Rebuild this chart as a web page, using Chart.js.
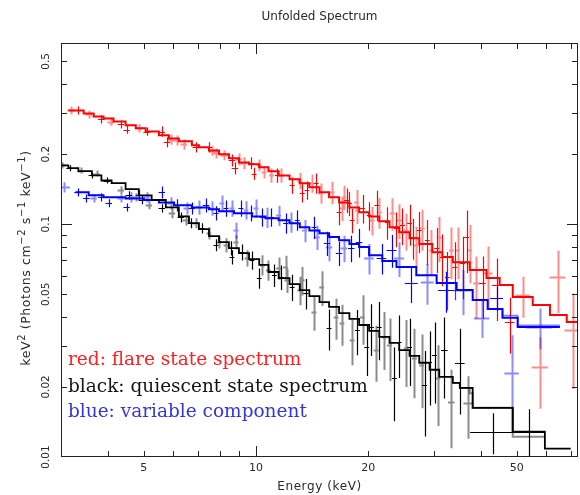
<!DOCTYPE html>
<html>
<head>
<meta charset="utf-8">
<script src="https://cdn.jsdelivr.net/npm/chart.js@4.4.1/dist/chart.umd.min.js"></script>
<style>
  html, body { margin: 0; padding: 0; background: #fff; }
  canvas { display: block; }
</style>
</head>
<body>
<canvas id="spectrum" width="580" height="495"></canvas>
<script>
// axis ticks
const xMinorTicks = [4, 5, 6, 7, 8, 9, 20, 30, 40, 50, 60, 70];
const xMajorTicks = [10];
const xTickLabels = [5, 10, 20, 50];
const yMinorTicks = [0.02, 0.03, 0.04, 0.05, 0.06, 0.07, 0.08, 0.09, 0.2, 0.3, 0.4, 0.5];
const yMajorTicks = [0.1];
const yTickLabels = ["0.01", "0.02", "0.05", "0.1", "0.2", "0.5"];

// models: [energy keV, keV^2 flux] (bin start, stepped)
const redModel = [[3.14,0.308],[3.45,0.299],[3.67,0.290],[3.90,0.2846],[4.15,0.276],[4.47,0.266],[4.76,0.258],[5.06,0.250],[5.49,0.241],[5.84,0.2336],[6.21,0.227],[6.73,0.218],[7.03,0.2138],[7.48,0.207],[7.96,0.1995],[8.46,0.1918],[9.0,0.184],[9.58,0.1808],[10.2,0.1755],[10.8,0.1687],[11.5,0.162],[12.3,0.156],[13.1,0.150],[13.9,0.144],[14.8,0.137],[15.7,0.1305],[16.7,0.124],[17.8,0.118],[18.9,0.1125],[20.1,0.108],[21.4,0.103],[22.8,0.097],[24.2,0.0924],[25.8,0.0871],[27.4,0.0821],[29.7,0.0758],[31.6,0.0722],[33.7,0.0687],[37.4,0.0635],[41.5,0.0587],[45.0,0.0548],[48.8,0.0487],[55.2,0.045],[61.4,0.0407],[68.1,0.038],[73,0.038]];
const blackModel = [[3.0,0.179],[3.14,0.174],[3.34,0.169],[3.63,0.162],[3.85,0.154],[4.10,0.150],[4.47,0.1413],[4.85,0.133],[5.25,0.127],[5.73,0.118],[6.21,0.108],[6.61,0.101],[7.03,0.0952],[7.48,0.0888],[7.96,0.0837],[8.46,0.0789],[9.0,0.0751],[9.58,0.0708],[10.2,0.0668],[10.8,0.0623],[11.5,0.0587],[12.3,0.0553],[13.1,0.0521],[13.9,0.0491],[14.8,0.0463],[15.7,0.0441],[16.7,0.0415],[17.8,0.0392],[18.9,0.0369],[20.1,0.0348],[21.4,0.0328],[22.8,0.0309],[24.2,0.0288],[25.8,0.0272],[27.4,0.0254],[29.2,0.0237],[31.0,0.0221],[33.7,0.0208],[35.2,0.0198],[38.1,0.01626],[48.8,0.01284],[59.5,0.01086],[69.8,0.01086]];
const blueModel = [[3.28,0.137],[3.56,0.133],[3.90,0.1305],[4.47,0.129],[5.0,0.127],[5.49,0.124],[6.03,0.1206],[6.73,0.118],[7.48,0.116],[7.96,0.1137],[8.73,0.1115],[9.75,0.108],[10.6,0.106],[11.5,0.104],[12.3,0.101],[13.1,0.097],[13.9,0.094],[14.8,0.0915],[15.7,0.088],[16.7,0.0854],[17.8,0.0821],[18.9,0.0797],[20.1,0.0736],[21.8,0.0694],[23.8,0.0654],[26.9,0.0604],[30.5,0.0559],[34.5,0.0521],[38.1,0.0472],[41.8,0.0432],[45.8,0.0396],[50.3,0.0362],[65.3,0.0362]];
const blackModelTail2 = [[33.7,0.0208],[35.2,0.0198],[37.4,0.0188],[38.1,0.01626],[48.8,0.01222],[59.5,0.01222]];
const blueModelTail2 = [[41.8,0.0432],[45.8,0.0405],[50.3,0.0368],[65.3,0.0368]];

// data points: [energy, value, relative y error, relative x half-width]
const redData1 = [[3.34,0.308,0.04,0.025],[3.85,0.282,0.04,0.02],[4.34,0.268,0.04,0.02],[4.50,0.255,0.04,0.02],[5.09,0.250,0.04,0.02],[5.59,0.250,0.05,0.02],[5.77,0.225,0.05,0.02],[6.90,0.214,0.05,0.02],[7.48,0.214,0.05,0.02],[8.62,0.188,0.06,0.02],[8.78,0.174,0.06,0.02],[9.70,0.183,0.06,0.02],[9.88,0.165,0.06,0.015],[11.4,0.162,0.07,0.015],[12.5,0.147,0.08,0.015],[13.3,0.136,0.09,0.015],[13.7,0.140,0.09,0.015],[14.5,0.150,0.10,0.015],[16.7,0.1125,0.12,0.015],[17.5,0.127,0.12,0.015],[17.8,0.123,0.12,0.015],[18.1,0.104,0.12,0.015],[19.3,0.117,0.14,0.015],[20.1,0.109,0.14,0.015],[21.1,0.121,0.15,0.015],[22.5,0.102,0.16,0.015],[23.8,0.096,0.17,0.015],[24.7,0.099,0.18,0.015],[25.8,0.101,0.2,0.015],[26.3,0.088,0.2,0.015],[27.4,0.094,0.2,0.015],[28.8,0.0854,0.22,0.015],[30.5,0.0789,0.22,0.015],[31.6,0.0722,0.25,0.015],[32.6,0.0593,0.28,0.015],[34.1,0.0654,0.28,0.015],[35.8,0.068,0.3,0.015],[36.7,0.088,0.3,0.015],[40.5,0.0559,0.3,0.02],[44.2,0.0548,0.3,0.03],[47.9,0.038,0.27,0.03]];
const redData2 = [[3.20,0.308,0.04,0.025],[3.56,0.296,0.04,0.02],[4.08,0.276,0.04,0.02],[4.85,0.258,0.04,0.02],[5.91,0.231,0.05,0.02],[6.13,0.229,0.05,0.02],[6.40,0.220,0.05,0.02],[7.62,0.207,0.05,0.02],[7.81,0.2015,0.05,0.02],[8.20,0.198,0.05,0.02],[9.00,0.190,0.06,0.02],[9.28,0.183,0.06,0.02],[10.2,0.179,0.06,0.015],[10.5,0.167,0.06,0.015],[11.0,0.162,0.07,0.015],[11.7,0.162,0.07,0.015],[13.1,0.154,0.08,0.015],[14.1,0.150,0.09,0.015],[14.9,0.136,0.10,0.015],[16.0,0.137,0.11,0.015],[17.0,0.117,0.12,0.015],[17.2,0.1305,0.12,0.015],[18.6,0.124,0.13,0.015],[18.7,0.115,0.13,0.015],[20.5,0.104,0.14,0.015],[21.4,0.1125,0.15,0.015],[23.2,0.1115,0.16,0.015],[24.2,0.104,0.17,0.015],[25.3,0.094,0.18,0.015],[26.9,0.0813,0.2,0.015],[27.9,0.096,0.2,0.015],[29.5,0.0774,0.22,0.015],[31.0,0.088,0.22,0.015],[33.4,0.0774,0.25,0.015],[34.7,0.0774,0.25,0.015],[37.4,0.0774,0.28,0.015],[39.0,0.0559,0.3,0.02],[41.8,0.0617,0.3,0.03],[51.9,0.0496,0.2,0.044],[57.7,0.0244,0.34,0.05],[64.4,0.0593,0.3,0.05],[70.7,0.035,0.44,0.05]];
const blackData1 = [[3.18,0.174,0.03,0.025],[3.63,0.162,0.03,0.02],[3.98,0.154,0.03,0.02],[4.56,0.133,0.04,0.02],[4.94,0.127,0.04,0.02],[5.59,0.117,0.04,0.02],[6.29,0.107,0.05,0.02],[6.69,0.101,0.05,0.02],[7.16,0.096,0.05,0.02],[7.81,0.0813,0.06,0.015],[8.57,0.0789,0.07,0.015],[8.62,0.0722,0.07,0.015],[9.17,0.0758,0.08,0.015],[9.75,0.070,0.09,0.015],[10.2,0.0587,0.1,0.015],[11.2,0.0604,0.11,0.015],[11.7,0.0593,0.12,0.015],[12.5,0.0537,0.13,0.015],[13.6,0.0506,0.15,0.015],[15.7,0.0358,0.2,0.015],[18.7,0.0351,0.22,0.015],[19.8,0.0297,0.25,0.015],[20.4,0.0362,0.25,0.015],[21.4,0.0362,0.28,0.015],[23.5,0.0219,0.35,0.015],[24.2,0.0312,0.3,0.015],[25.8,0.0297,0.32,0.015],[28.3,0.0204,0.4,0.015],[29.2,0.0256,0.35,0.015],[30.1,0.0274,0.38,0.015],[32.0,0.0288,0.38,0.02],[35.2,0.0254,0.4,0.03],[43.1,0.01284,0.2,0.13],[53.8,0.01284,0.25,0.1]];
const blackData2 = [[3.01,0.179,0.03,0.025],[3.39,0.170,0.03,0.02],[3.74,0.165,0.03,0.02],[4.34,0.140,0.04,0.02],[4.76,0.1305,0.04,0.02],[5.16,0.1206,0.04,0.02],[5.95,0.1115,0.05,0.02],[6.48,0.104,0.05,0.02],[6.90,0.101,0.05,0.02],[7.48,0.0915,0.06,0.015],[7.96,0.0837,0.06,0.015],[8.31,0.0813,0.07,0.015],[8.84,0.0837,0.07,0.015],[9.46,0.0715,0.08,0.015],[10.4,0.0668,0.1,0.015],[10.8,0.0635,0.1,0.015],[11.5,0.0648,0.11,0.015],[12.0,0.0654,0.12,0.015],[12.1,0.0575,0.12,0.015],[13.1,0.0521,0.14,0.015],[13.3,0.0575,0.14,0.015],[14.3,0.0420,0.17,0.015],[15.0,0.0537,0.17,0.015],[16.4,0.0399,0.2,0.015],[17.0,0.0376,0.2,0.015],[18.1,0.0318,0.22,0.015],[19.3,0.0399,0.24,0.015],[21.0,0.0288,0.27,0.015],[22.1,0.0328,0.28,0.015],[22.8,0.0303,0.3,0.015],[25.3,0.0294,0.32,0.015],[26.6,0.0267,0.33,0.015],[27.8,0.0249,0.35,0.015],[30.7,0.0219,0.38,0.015],[33.4,0.0173,0.37,0.02],[37.1,0.0171,0.3,0.03]];
const blueData1 = [[3.34,0.137,0.04,0.025],[3.51,0.129,0.04,0.02],[3.85,0.1305,0.04,0.02],[4.03,0.123,0.04,0.02],[4.50,0.118,0.04,0.02],[4.85,0.133,0.05,0.02],[5.59,0.137,0.06,0.02],[6.13,0.1206,0.06,0.02],[6.73,0.117,0.06,0.02],[7.34,0.1206,0.07,0.02],[7.81,0.1115,0.07,0.015],[8.31,0.117,0.08,0.015],[9.11,0.117,0.08,0.015],[9.70,0.1115,0.08,0.015],[10.4,0.107,0.09,0.015],[11.0,0.107,0.09,0.015],[12.0,0.101,0.1,0.015],[12.9,0.104,0.1,0.015],[14.3,0.097,0.11,0.015],[15.5,0.0829,0.12,0.02],[16.7,0.0751,0.12,0.02],[18.0,0.0789,0.13,0.02],[18.9,0.0837,0.14,0.02],[21.7,0.0715,0.15,0.03],[23.1,0.0774,0.16,0.03],[26.1,0.0559,0.18,0.04],[32.4,0.0521,0.2,0.05],[44.2,0.0482,0.12,0.04]];
const blueData2 = [[3.05,0.144,0.05,0.04],[3.67,0.129,0.04,0.02],[4.34,0.129,0.04,0.02],[4.61,0.1305,0.05,0.02],[5.09,0.1305,0.05,0.02],[5.91,0.123,0.06,0.02],[6.52,0.117,0.06,0.02],[7.03,0.118,0.07,0.02],[7.62,0.117,0.07,0.015],[8.10,0.123,0.08,0.015],[8.62,0.117,0.08,0.015],[8.84,0.094,0.08,0.015],[9.40,0.115,0.09,0.015],[10.0,0.117,0.09,0.015],[10.7,0.107,0.1,0.015],[11.5,0.109,0.1,0.015],[12.4,0.102,0.1,0.015],[13.5,0.094,0.11,0.015],[14.6,0.088,0.12,0.015],[15.7,0.0797,0.13,0.02],[17.2,0.0789,0.13,0.02],[20.1,0.0715,0.15,0.03],[24.2,0.0715,0.17,0.03],[28.8,0.0564,0.2,0.04],[35.8,0.0521,0.22,0.05],[40.3,0.0396,0.18,0.047],[48.5,0.023,0.45,0.045],[57.7,0.0362,0.2,0.08]];

const legendLines = [
  ["red: flare state spectrum", "#ff1f1f", 365],
  ["black: quiescent state spectrum", "#141414", 392],
  ["blue: variable component", "#3535dc", 417],
];

const AXIS_FONT = "12px 'DejaVu Sans'";
const TEXT_COLOR = "#2a2a2a";

const model = (arr) => arr.map(([x, y]) => ({ x, y }));
const points = (arr) => arr.map(([x, y, ey, ex]) => ({ x, y, ey, ex }));

const lineSet = (data, color, width) => ({
  type: "line", data: model(data), borderColor: color, borderWidth: width,
  stepped: true, pointRadius: 0, fill: false, tension: 0,
});
const crossSet = (data, color, width) => ({
  type: "scatter", data: points(data), borderColor: color, borderWidth: width,
  pointRadius: 0, showLine: false, crosses: true,
});

// draw the error crosses through the chart's scales
const crossesPlugin = {
  id: "crosses",
  beforeDatasetsDraw(chart) {
    const { ctx, chartArea: a, scales: { x, y } } = chart;
    ctx.save();
    ctx.beginPath();
    ctx.rect(a.left, a.top, a.right - a.left, a.bottom - a.top);
    ctx.clip();
    chart.data.datasets.forEach((ds) => {
      if (!ds.crosses) return;
      ctx.strokeStyle = ds.borderColor;
      ctx.lineWidth = ds.borderWidth;
      ctx.beginPath();
      ds.data.forEach((p) => {
        const px = Math.round(x.getPixelForValue(p.x)) + 0.5;
        const py = Math.round(y.getPixelForValue(p.y)) + 0.5;
        ctx.moveTo(x.getPixelForValue(p.x * (1 - p.ex)), py);
        ctx.lineTo(x.getPixelForValue(p.x * (1 + p.ex)), py);
        ctx.moveTo(px, y.getPixelForValue(Math.max(p.y * (1 - p.ey), 0.001)));
        ctx.lineTo(px, y.getPixelForValue(p.y * (1 + p.ey)));
      });
      ctx.stroke();
    });
    ctx.restore();
  },
};

// frame, inward ticks, rotated y labels, titles and the coloured notes
const framePlugin = {
  id: "frame",
  afterDraw(chart) {
    const { ctx, chartArea: a, scales: { x, y } } = chart;
    ctx.save();
    ctx.strokeStyle = "#222";
    ctx.lineWidth = 1;
    ctx.strokeRect(a.left + 0.5, a.top + 0.5, a.right - a.left - 1, a.bottom - a.top - 1);

    ctx.beginPath();
    const xTick = (v, len) => {
      const px = Math.round(x.getPixelForValue(v)) + 0.5;
      ctx.moveTo(px, a.bottom); ctx.lineTo(px, a.bottom - len);
      ctx.moveTo(px, a.top); ctx.lineTo(px, a.top + len);
    };
    const yTick = (v, len) => {
      const py = Math.round(y.getPixelForValue(v)) + 0.5;
      ctx.moveTo(a.left, py); ctx.lineTo(a.left + len, py);
      ctx.moveTo(a.right, py); ctx.lineTo(a.right - len, py);
    };
    xMinorTicks.forEach((v) => xTick(v, 6));
    xMajorTicks.forEach((v) => xTick(v, 11));
    yMinorTicks.forEach((v) => yTick(v, 6));
    yMajorTicks.forEach((v) => yTick(v, 11));
    ctx.stroke();

    ctx.fillStyle = TEXT_COLOR;
    ctx.textAlign = "center";
    ctx.textBaseline = "middle";
    ctx.font = "10.5px 'DejaVu Sans'";
    yTickLabels.forEach((t) => {
      ctx.save();
      ctx.translate(46, y.getPixelForValue(parseFloat(t)));
      ctx.rotate(-Math.PI / 2);
      ctx.fillText(t, 0, 0);
      ctx.restore();
    });

    const midX = (a.left + a.right) / 2;
    ctx.font = AXIS_FONT;
    ctx.fillText("Unfolded Spectrum", midX, 17);
    ctx.letterSpacing = "0.6px";
    ctx.fillText("Energy (keV)", midX, 487);

    // y title with superscripts
    const parts = [["keV", 0], ["2", 1], [" (Photons cm", 0], ["\u22122", 1], [" s", 0], ["\u22121", 1], [" keV", 0], ["\u22121", 1], [")", 0]];
    const baseFont = "12.5px 'DejaVu Sans'";
    const supFont = "10px 'DejaVu Sans'";
    let total = 0;
    parts.forEach(([t, s]) => { ctx.font = s ? supFont : baseFont; total += ctx.measureText(t).width; });
    ctx.save();
    ctx.translate(27, 258);
    ctx.rotate(-Math.PI / 2);
    ctx.textAlign = "left";
    let cx = -total / 2;
    parts.forEach(([t, s]) => {
      ctx.font = s ? supFont : baseFont;
      ctx.fillText(t, cx, s ? -5 : 0);
      cx += ctx.measureText(t).width;
    });
    ctx.restore();

    ctx.letterSpacing = "0px";
    ctx.font = "18.5px 'DejaVu Serif'";
    ctx.textAlign = "left";
    ctx.textBaseline = "alphabetic";
    legendLines.forEach(([t, c, by]) => {
      ctx.fillStyle = c;
      ctx.fillText(t, 68, by);
    });
    ctx.restore();
  },
};

new Chart(document.getElementById("spectrum"), {
  data: {
    datasets: [
      lineSet(redModel, "#ff0000", 2),
      lineSet(blackModel, "#000000", 1.8),
      lineSet(blueModel, "#0000ff", 2),
      lineSet(blackModelTail2, "rgba(0,0,0,0.45)", 2),
      lineSet(blueModelTail2, "rgba(0,0,255,0.5)", 1.5),
      crossSet(redData1, "#ff0000", 1.2),
      crossSet(redData2, "rgba(255,0,0,0.45)", 2),
      crossSet(blackData1, "#000000", 1.2),
      crossSet(blackData2, "rgba(0,0,0,0.45)", 2),
      crossSet(blueData1, "#0000ff", 1.2),
      crossSet(blueData2, "rgba(0,0,255,0.45)", 2),
    ],
  },
  options: {
    responsive: false,
    animation: false,
    devicePixelRatio: 1,
    layout: { padding: { top: 43, right: 2, left: 0, bottom: 0 } },
    plugins: { legend: { display: false }, tooltip: { enabled: false } },
    scales: {
      x: {
        type: "logarithmic", min: 3, max: 73,
        grid: { display: false, drawTicks: false },
        border: { display: false },
        afterBuildTicks: (s) => { s.ticks = xTickLabels.map((v) => ({ value: v })); },
        afterFit: (s) => { s.height = 38; },
        ticks: {
          autoSkip: false, maxRotation: 0, padding: 5, color: TEXT_COLOR,
          font: { family: "DejaVu Sans", size: 11 },
          callback: (v) => String(v),
        },
      },
      y: {
        type: "logarithmic", min: 0.01, max: 0.6,
        grid: { display: false, drawTicks: false },
        border: { display: false },
        ticks: { display: false },
        afterFit: (s) => { s.width = 61; },
      },
    },
  },
  plugins: [crossesPlugin, framePlugin],
});
</script>
</body>
</html>
